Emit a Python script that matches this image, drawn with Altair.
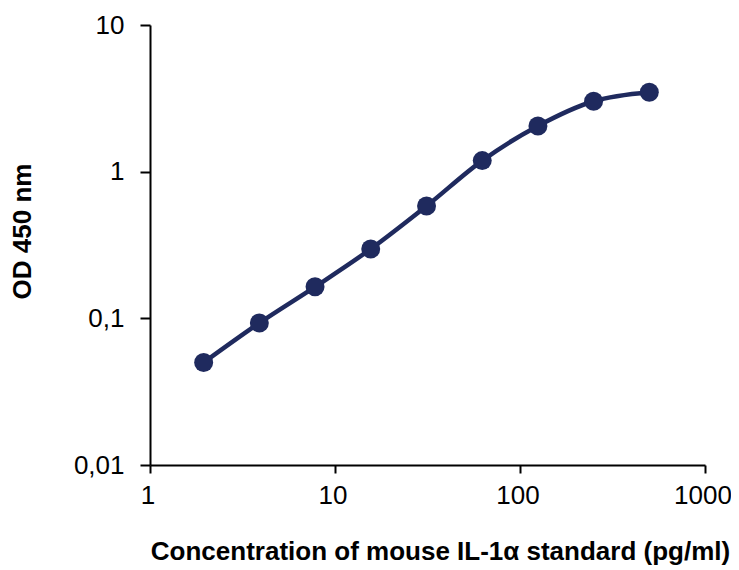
import altair as alt
import pandas as pd

concentration = [1.95, 3.9, 7.8, 15.6, 31.25, 62.5, 125, 250, 500]
od450 = [0.050, 0.093, 0.164, 0.297, 0.583, 1.19, 2.05, 3.02, 3.48]

x_ticks = [1, 10, 100, 1000]
y_ticks = [0.01, 0.1, 1, 10]

df = pd.DataFrame({"conc": concentration, "od": od450})
color = "#1F2A5E"
font = "Liberation Sans"

x = alt.X(
    "conc:Q",
    scale=alt.Scale(type="log", domain=[1, 1000], nice=False),
    axis=alt.Axis(
        values=x_ticks,
        format="~g",
        grid=False,
        domainColor="black",
        domainWidth=2,
        tickColor="black",
        tickWidth=2,
        tickSize=8,
        labelFont=font,
        labelFontSize=26,
        labelColor="black",
        labelPadding=9,
        labelOffset=-2.5,
        labelFlush=False,
        title="Concentration of mouse  IL-1α standard (pg/ml)",
        titleFont=font,
        titleFontSize=26,
        titleFontWeight="bold",
        titleColor="black",
        titleX=290,
        titleY=94,
        titleBaseline="alphabetic",
    ),
)
y = alt.Y(
    "od:Q",
    scale=alt.Scale(type="log", domain=[0.01, 10], nice=False),
    axis=alt.Axis(
        values=y_ticks,
        labelExpr="replace(format(datum.value, '~g'), '.', ',')",
        grid=False,
        domainColor="black",
        domainWidth=2,
        tickColor="black",
        tickWidth=2,
        tickSize=10,
        labelFont=font,
        labelFontSize=26,
        labelColor="black",
        labelPadding=16,
        labelFlush=False,
        title="OD 450 nm",
        titleFont=font,
        titleFontSize=26,
        titleFontWeight="bold",
        titleColor="black",
        titleX=-128,
        titleY=206,
        titleBaseline="middle",
    ),
)

base = alt.Chart(df)
line = base.mark_line(color=color, strokeWidth=4.5, interpolate="monotone").encode(x=x, y=y)
pts = base.mark_circle(color=color, size=360, opacity=1).encode(x=x, y=y)

chart = (
    (line + pts)
    .properties(
        width=555,
        height=440,
        background="white",
        autosize=alt.AutoSizeParams(type="none"),
        padding={"left": 142, "top": 17, "right": 26, "bottom": 100},
    )
    .configure_view(strokeWidth=0, stroke=None)
)

chart.save("out.html", embed_options={"renderer": "svg", "actions": False})
